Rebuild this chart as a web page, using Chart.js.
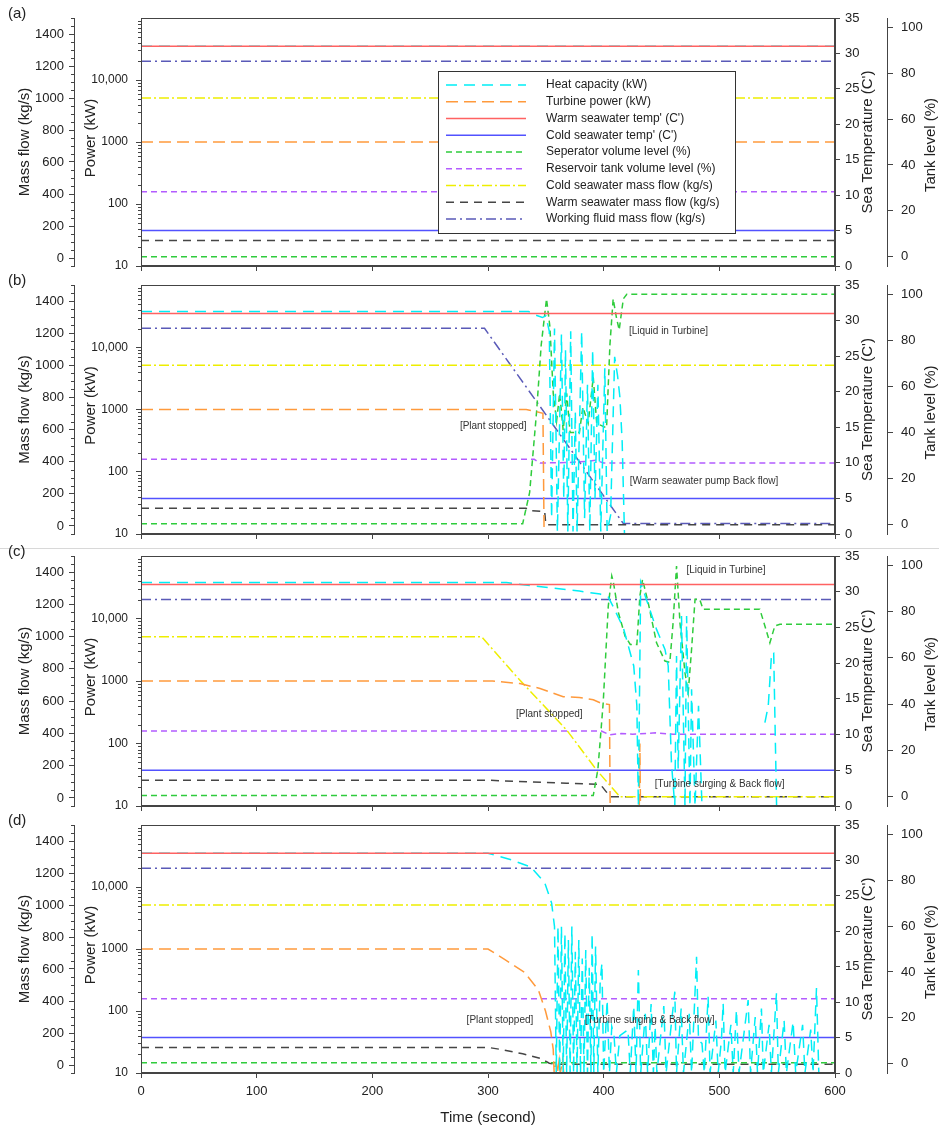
<!DOCTYPE html>
<html>
<head>
<meta charset="utf-8">
<script src="https://cdn.jsdelivr.net/npm/chart.js@4.4.0/dist/chart.umd.min.js"></script>
<style>
  body { margin: 0; background: #fff; width: 939px; height: 1127px; position: relative; overflow: hidden; }
  canvas { position: absolute; left: 0; }
  #sep { position: absolute; left: 0; top: 548px; width: 939px; height: 1px; background: #d8d8d8; }
</style>
</head>
<body>
<canvas id="pa" width="939" height="283" style="top:0px"></canvas>
<canvas id="pb" width="939" height="284" style="top:267px"></canvas>
<div id="sep"></div>
<canvas id="pc" width="939" height="285" style="top:538px"></canvas>
<canvas id="pd" width="939" height="320" style="top:807px"></canvas>
<script>
// series order and which axis each one uses
const seriesNames = ['Heat capacity (kW)', 'Turbine power (kW)', "Warm seawater temp' (C')", "Cold seawater temp' (C')",
  'Seperator volume level (%)', 'Reservoir tank volume level (%)', 'Cold seawater mass flow (kg/s)',
  'Warm seawater mass flow (kg/s)', 'Working fluid mass flow (kg/s)'];
const seriesAxes = ['power', 'power', 'temp', 'temp', 'tank', 'tank', 'mass', 'mass', 'mass'];

// tick labels
const timeTicks = [0, 100, 200, 300, 400, 500, 600];
const massTicks = [0, 200, 400, 600, 800, 1000, 1200, 1400];
const powerTicks = [10, 100, 1000, 10000];
const powerTickLabels = ['10', '100', '1000', '10,000'];
const tempTicks = [0, 5, 10, 15, 20, 25, 30, 35];
const tankTicks = [0, 20, 40, 60, 80, 100];

// (a) steady operation, [time s, value]
const aHeat  = [[0, 35000], [600, 35000]];
const aTurb  = [[0, 1000], [600, 1000]];
const aWarmT = [[0, 31], [600, 31]];
const aColdT = [[0, 5], [600, 5]];
const aSep   = [[0, 0], [600, 0]];
const aRes   = [[0, 28.3], [600, 28.3]];
const aColdM = [[0, 1000], [600, 1000]];
const aWarmM = [[0, 110], [600, 110]];
const aWork  = [[0, 1230], [600, 1230]];

// (b)
const bHeat  = [[0, 37500], [335, 37500], [341, 33000], [347, 30000], [350, 32000], [353, 18000], [355, 18], [357.5, 20000],
  [360, 11], [363.5, 16000], [365.5, 37], [367, 9100], [369, 11], [371.5, 18000], [373.5, 11], [375.5, 920], [377, 11],
  [381, 18000], [383.5, 18], [386, 2500], [388, 11], [390.5, 9100], [392.5, 37], [395, 2500], [397.5, 11], [401, 4600],
  [403, 11], [406, 20], [409.5, 7000], [412, 3500], [414, 1600], [416, 300], [418, 10]];
const bTurb  = [[0, 1000], [333, 1000], [340, 940], [347.5, 870], [348.5, 10]];
const bWarmT = [[0, 31], [600, 31]];
const bColdT = [[0, 5], [600, 5]];
const bSep   = [[0, 0.5], [330, 0.5], [336, 14], [342, 49], [346, 78], [350.6, 98], [353.5, 86], [356.4, 57], [359.3, 45],
  [362, 57], [365, 41], [368, 57], [371, 40], [379, 40], [382, 51], [386.6, 44], [391, 64], [394, 44], [402.5, 42],
  [405.4, 78], [408.2, 98], [411, 90], [413.4, 84.5], [417, 98], [420, 100], [600, 100]];
const bRes   = [[0, 28.4], [340, 28.4], [345, 26.8], [370, 27], [385, 27.5], [393, 28], [400, 26.8], [600, 26.8]];
const bColdM = [[0, 1000], [600, 1000]];
const bWarmM = [[0, 110], [333, 110], [336, 95], [349, 90], [350, 8], [600, 8]];
const bWork  = [[0, 1230], [297, 1230], [417, 15], [600, 15]];

// (c)
const cHeat  = [[0, 37500], [316, 37500], [340, 33000], [379, 27500], [397, 24600], [404, 22000], [408, 15800], [417, 7100],
  [423, 2800], [426, 1740], [428.7, 400], [430, 10], [432, 38000], [437, 20000], [445.7, 6700], [453, 3200], [455.8, 1740],
  [458.6, 49], [461.5, 10], [463, 2500], [464.4, 40], [467.3, 11000], [470.3, 10], [471.7, 11000], [474.6, 10], [476, 740],
  [479, 10], [482, 400], [485, 10], [486, null], [538, null], [539.4, 215], [542.3, 400], [545.2, 2800], [547, 2800],
  [549.5, 10]];
const cTurb  = [[0, 1000], [304, 1000], [327.6, 910], [345, 760], [365, 560], [379, 545], [391, 500], [398, 440], [405, 420],
  [405.6, 10], [406, null], [430.8, 10], [431.3, 100], [431.8, 10]];
const cWarmT = [[0, 31], [600, 31]];
const cColdT = [[0, 5], [600, 5]];
const cSep   = [[0, 0.5], [391, 0.5], [395, 11.8], [399.6, 40.6], [404, 82.4], [407, 95.4], [408.3, 93], [412.7, 79.6],
  [418.5, 69.4], [423, 65.8], [428.7, 65.8], [431.3, 86.7], [433.6, 93.9], [438.5, 83.8], [445.7, 66.5], [453, 58.6],
  [457.2, 58], [460, 75], [463, 99.7], [466, 75], [470.3, 53.6], [473.1, 45], [476, 63.7], [479, 85.3], [483, 85.3],
  [486, 81], [535, 81], [539.4, 73.8], [543.7, 66.5], [548, 73.8], [552.4, 74.5], [600, 74.5]];
const cRes   = [[0, 28.4], [398, 28.4], [405, 26.8], [415, 27.3], [425, 27], [445, 27.6], [460, 27], [600, 27]];
const cColdM = [[0, 1000], [294.4, 1000], [324.7, 752], [368, 421], [393.8, 174], [414, 8], [600, 8]];
const cWarmM = [[0, 110], [299, 110], [368, 91], [397, 85], [405.6, 8], [600, 8]];
const cWork  = [[0, 1230], [600, 1230]];

// (d)
const dHeat  = [[0, 35000], [300, 35000], [320, 27500], [337, 21000], [349, 11800], [355, 5500], [357.5, 2300], [359, 10],
  [360.5, 2300], [362, 10], [363.5, 2300], [365, 10], [366.5, 1780], [368, 10], [369.5, 1400], [371, 10], [372.5, 2300],
  [374, 10], [375.5, 900], [377, 10], [378.5, 1400], [380, 10], [381.5, 700], [383, 10], [384.5, 960], [386, 10],
  [387.5, 500], [389, 10], [390, 1780], [391.5, 10], [393, 1100], [395, 10], [397, 300], [398.5, 590], [400, 10],
  [403, 150], [405, 10], [407, 56], [409, 40], [411, 10], [414, 40], [421, 50], [423, 10], [426, 120], [428, 10],
  [430, 460], [432, 10], [436, 90], [438, 10], [441, 130], [443, 10], [444.5, 56], [446, 10], [452, 120], [454, 10],
  [461.5, 205], [463, 10], [467, 110], [469, 10], [474, 90], [476, 10], [480.3, 750], [482, 34], [485, 30], [487, 10],
  [490.3, 170], [492, 10], [497, 70], [499, 10], [501.8, 34], [503.3, 133], [505, 10], [510, 60], [512, 10], [514.8, 104],
  [517, 10], [524.9, 150], [527, 10], [531, 80], [533, 10], [536.4, 110], [538, 10], [543, 60], [545, 10], [549.4, 194],
  [551, 10], [556, 70], [558, 10], [563.8, 67], [566, 10], [572, 60], [574, 10], [579, 50], [581, 10], [584, 235], [586, 10]];
const dTurb  = [[0, 1000], [300, 1000], [313.3, 700], [331.5, 420], [343.6, 218], [349.7, 100], [354.3, 46], [356.4, 24],
  [357.2, 10], [359, 15], [360, 10], [361.5, 16], [362.5, 10], [364.5, 16], [365.5, 10]];
const dWarmT = [[0, 31], [600, 31]];
const dColdT = [[0, 5], [600, 5]];
const dSep   = [[0, 0.5], [600, 0.5]];
const dRes   = [[0, 28.3], [600, 28.3]];
const dColdM = [[0, 1000], [600, 1000]];
const dWarmM = [[0, 110], [300, 110], [313, 95], [330, 70], [345, 42], [353, 11], [358, 5], [600, 5]];
const dWork  = [[0, 1230], [600, 1230]];

// notes: [text, time s, sea temperature]
const bNotes = [['[Liquid in Turbine]', 421.8, 28.5], ['[Plant stopped]', 275.7, 15.2], ['[Warm seawater pump Back flow]', 422.6, 7.35]];
const cNotes = [['[Liquid in Turbine]', 471.6, 33.0], ['[Plant stopped]', 324.1, 12.9], ['[Turbine surging & Back flow]', 444.2, 3.1]];
const dNotes = [['[Plant stopped]', 281.5, 7.5], ['[Turbine surging & Back flow]', 383.7, 7.5]];

const FONT = "'Liberation Sans', Arial, sans-serif";
const INK = '#222';
const AXIS = '#444';
const styles = [
  { color: '#00eef6', dash: [11, 7] },
  { color: '#ff9a3c', dash: [12, 6] },
  { color: '#ff6262', dash: [] },
  { color: '#5252ff', dash: [] },
  { color: '#2fcc3c', dash: [6, 4] },
  { color: '#b35cff', dash: [6, 4] },
  { color: '#eeee00', dash: [10, 3, 2, 3] },
  { color: '#454545', dash: [8, 6] },
  { color: '#5a5ab8', dash: [10, 4, 2, 4] }
];
// red temperature line sits above the heat capacity trace
const drawOrder = [0, 0, -1, 0, 0, 0, 0, 0, 0];

Chart.defaults.font.family = FONT;
Chart.defaults.color = INK;

const deco = {
  pa: { label: '(a)', notes: [], legend: true, xTitle: false },
  pb: { label: '(b)', notes: bNotes, legend: false, xTitle: false },
  pc: { label: '(c)', notes: cNotes, legend: false, xTitle: false },
  pd: { label: '(d)', notes: dNotes, legend: false, xTitle: true }
};

function rotText(ctx, text, x, y) {
  ctx.save();
  ctx.translate(x, y);
  ctx.rotate(-Math.PI / 2);
  ctx.fillText(text, 0, 0);
  ctx.restore();
}

const panelDeco = {
  id: 'panelDeco',
  afterDatasetsDraw(chart) {
    const d = deco[chart.canvas.id];
    const { ctx, scales } = chart;
    ctx.save();
    // notes
    ctx.fillStyle = '#333';
    ctx.font = '10px ' + FONT;
    ctx.textAlign = 'left';
    ctx.textBaseline = 'middle';
    d.notes.forEach(n => ctx.fillText(n[0], scales.x.getPixelForValue(n[1]), scales.temp.getPixelForValue(n[2])));
    // legend
    if (d.legend) {
      const x0 = 438, y0 = 71, w = 297, h = 162;
      ctx.fillStyle = '#fff';
      ctx.fillRect(x0, y0, w, h);
      ctx.strokeStyle = '#333';
      ctx.lineWidth = 1;
      ctx.setLineDash([]);
      ctx.strokeRect(x0 + 0.5, y0 + 0.5, w, h);
      ctx.font = '12px ' + FONT;
      seriesNames.forEach((name, i) => {
        const y = 85 + i * 16.75;
        ctx.strokeStyle = styles[i].color;
        ctx.setLineDash(styles[i].dash);
        ctx.lineWidth = 1.5;
        ctx.beginPath(); ctx.moveTo(446, y); ctx.lineTo(526, y); ctx.stroke();
        ctx.setLineDash([]);
        ctx.fillStyle = INK;
        ctx.fillText(name, 546, y);
      });
    }
    ctx.restore();
  },
  afterDraw(chart) {
    const d = deco[chart.canvas.id];
    const { ctx, chartArea: ca, scales } = chart;
    ctx.save();
    // plot frame
    ctx.strokeStyle = AXIS;
    ctx.lineWidth = 1;
    ctx.strokeRect(ca.left + 0.5, ca.top + 0.5, ca.width - 1, ca.height - 1);
    // minor ticks on the two left axes
    ctx.beginPath();
    const m = scales.mass;
    for (let v = -50; v <= 1500; v += 50) {
      if (massTicks.includes(v)) continue;
      const y = Math.round(m.getPixelForValue(v)) + 0.5;
      ctx.moveTo(m.right - 3, y); ctx.lineTo(m.right, y);
    }
    const p = scales.power;
    for (let dec = 10; dec < 100000; dec *= 10) {
      for (let k = 2; k <= 9; k++) {
        const y = Math.round(p.getPixelForValue(dec * k)) + 0.5;
        ctx.moveTo(p.right - 3, y); ctx.lineTo(p.right, y);
      }
    }
    ctx.stroke();
    // axis titles
    ctx.fillStyle = INK;
    ctx.font = '15px ' + FONT;
    ctx.textAlign = 'center';
    ctx.textBaseline = 'middle';
    const cy = (ca.top + ca.bottom) / 2;
    rotText(ctx, 'Mass flow (kg/s)', 25, cy);
    rotText(ctx, 'Power (kW)', 91, cy - 4);
    rotText(ctx, "Sea Temperature (C')", 868, cy);
    rotText(ctx, 'Tank level (%)', 931, cy + 3);
    if (d.xTitle) ctx.fillText('Time (second)', (ca.left + ca.right) / 2, ca.bottom + 45);
    // panel letter
    ctx.textAlign = 'left';
    ctx.fillText(d.label, 8, ca.top - 4);
    ctx.restore();
  }
};

function makePanel(id, series, xHeight, showX) {
  const datasets = series.map((pts, i) => ({
    label: seriesNames[i],
    data: pts.map(p => ({ x: p[0], y: p[1] })),
    yAxisID: seriesAxes[i],
    order: drawOrder[i],
    borderColor: styles[i].color,
    borderDash: styles[i].dash,
    borderWidth: 1.5,
    pointRadius: 0,
    fill: false,
    tension: 0
  }));
  const tickFont = { size: 13, family: FONT };
  const yGrid = { drawOnChartArea: false, tickLength: 5, color: AXIS };
  new Chart(document.getElementById(id), {
    type: 'line',
    data: { datasets },
    options: {
      responsive: false,
      animation: false,
      layout: { padding: { top: 18, left: 0, right: 0, bottom: 0 } },
      plugins: { legend: { display: false }, tooltip: { enabled: false } },
      scales: {
        x: {
          type: 'linear', position: 'bottom', min: 0, max: 600,
          afterBuildTicks: s => { s.ticks = timeTicks.map(v => ({ value: v })); },
          ticks: { display: showX, font: tickFont, padding: 6, maxRotation: 0 },
          grid: { drawOnChartArea: false, tickLength: 5, color: AXIS },
          border: { color: AXIS },
          afterFit: s => { s.height = xHeight; }
        },
        mass: {
          type: 'linear', position: 'left', weight: 1, min: -50, max: 1500,
          afterBuildTicks: s => { s.ticks = massTicks.map(v => ({ value: v })); },
          ticks: { font: tickFont, padding: 5, callback: v => String(v) },
          grid: yGrid,
          border: { color: AXIS },
          afterFit: s => { s.width = 74; }
        },
        power: {
          type: 'logarithmic', position: 'left', weight: 0, min: 10, max: 100000,
          afterBuildTicks: s => { s.ticks = powerTicks.map(v => ({ value: v })); },
          ticks: { font: { size: 12, family: FONT }, padding: 8, callback: (v, i) => powerTickLabels[i] },
          grid: yGrid,
          border: { color: AXIS },
          afterFit: s => { s.width = 67; }
        },
        temp: {
          type: 'linear', position: 'right', weight: 0, min: 0, max: 35,
          afterBuildTicks: s => { s.ticks = tempTicks.map(v => ({ value: v })); },
          ticks: { font: tickFont, padding: 5 },
          grid: yGrid,
          border: { color: AXIS },
          afterFit: s => { s.width = 52; }
        },
        tank: {
          type: 'linear', position: 'right', weight: 1, min: -4, max: 104,
          afterBuildTicks: s => { s.ticks = tankTicks.map(v => ({ value: v })); },
          ticks: { font: tickFont, padding: 8 },
          grid: Object.assign({}, yGrid, { tickLength: 6 }),
          border: { color: AXIS },
          afterFit: s => { s.width = 52; }
        }
      }
    },
    plugins: [panelDeco]
  });
}

makePanel('pa', [aHeat, aTurb, aWarmT, aColdT, aSep, aRes, aColdM, aWarmM, aWork], 17, false);
makePanel('pb', [bHeat, bTurb, bWarmT, bColdT, bSep, bRes, bColdM, bWarmM, bWork], 17, false);
makePanel('pc', [cHeat, cTurb, cWarmT, cColdT, cSep, cRes, cColdM, cWarmM, cWork], 17, false);
makePanel('pd', [dHeat, dTurb, dWarmT, dColdT, dSep, dRes, dColdM, dWarmM, dWork], 54, true);
</script>
</body>
</html>
